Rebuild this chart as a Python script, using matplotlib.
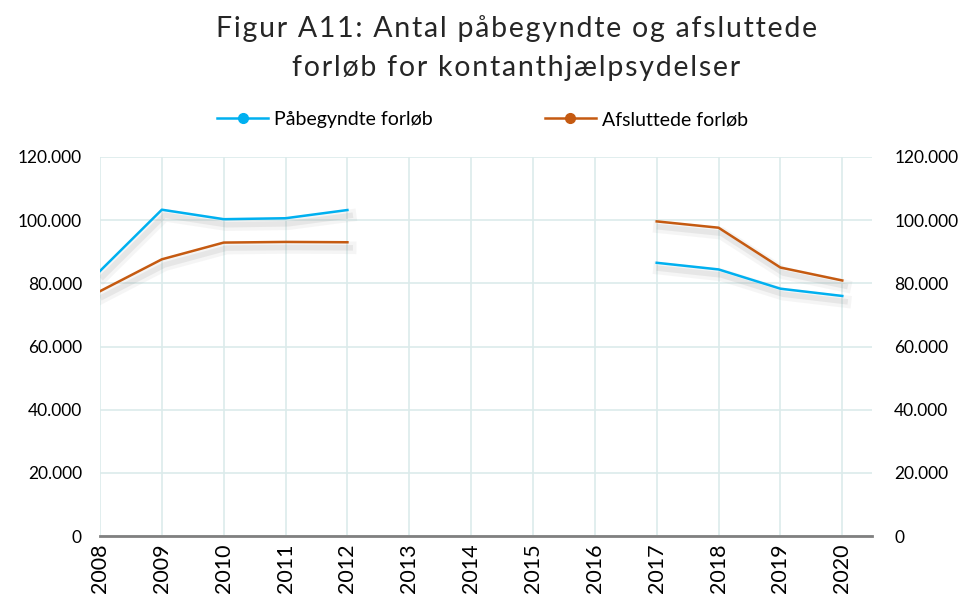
import numpy as np
import matplotlib
matplotlib.use("Agg")
import matplotlib.pyplot as plt
import matplotlib.patheffects as pe
from matplotlib.ticker import FuncFormatter
from matplotlib.lines import Line2D

plt.rcParams['font.family'] = ['Lato', 'DejaVu Sans']

years = list(range(2008, 2021))
# 2013-2016 missing in source
paabegyndte = [83900, 103300, 100300, 100600, 103200, None, None, None, None,
               86500, 84400, 78300, 76000]
afsluttede = [77500, 87600, 92900, 93100, 93000, None, None, None, None,
              99600, 97600, 85000, 80900]
yticks = [0, 20000, 40000, 60000, 80000, 100000, 120000]

title_1 = "Figur A11: Antal påbegyndte og afsluttede"
title_2 = "forløb for kontanthjælpsydelser"

blue = '#00B0F0'
orange = '#C55A11'
grid_col = '#DCEBEB'


def to_arr(vals):
    return np.array([np.nan if v is None else v for v in vals], dtype=float)


def fmt(v, _):
    return f"{int(v):,}".replace(",", ".")


def spaced(s):
    # imitate the wide letter spacing of the original title
    return "\u200a".join(s)


fig = plt.figure(figsize=(9.65, 5.99), dpi=100)
ax = fig.add_axes([0.1036, 0.105, 0.8, 0.633])

shadow = [pe.SimpleLineShadow(offset=(2, -4), shadow_color='#7f7f7f', alpha=0.07, linewidth=9),
          pe.SimpleLineShadow(offset=(2, -4), shadow_color='#7f7f7f', alpha=0.12, linewidth=4),
          pe.Normal()]
ax.plot(years, to_arr(paabegyndte), color=blue, lw=1.8, path_effects=shadow, zorder=3)
ax.plot(years, to_arr(afsluttede), color=orange, lw=1.8, path_effects=shadow, zorder=3)

ax.set_xlim(2008, 2020.48)
ax.set_ylim(0, 120000)
ax.set_xticks(years)
ax.set_xticklabels([str(y) for y in years], rotation=90, fontsize=15.5)
ax.set_yticks(yticks)
ax.yaxis.set_major_formatter(FuncFormatter(fmt))
ax.tick_params(axis='y', length=0, labelsize=12.5, pad=13)
ax.tick_params(axis='x', length=0, pad=5)
ax.grid(True, color=grid_col, lw=1.2, zorder=0)
ax.set_axisbelow(True)
for s in ['top', 'right', 'left']:
    ax.spines[s].set_visible(False)
ax.spines['bottom'].set_color('#808080')
ax.spines['bottom'].set_linewidth(2)

ax2 = ax.twinx()
ax2.set_ylim(ax.get_ylim())
ax2.set_yticks(yticks)
ax2.yaxis.set_major_formatter(FuncFormatter(fmt))
ax2.tick_params(axis='y', length=0, labelsize=12.5, pad=16)
for s in ax2.spines.values():
    s.set_visible(False)

fig.text(0.535, 0.953, spaced(title_1), ha='center', va='center', fontsize=20.5, color='#262626')
fig.text(0.535, 0.887, spaced(title_2), ha='center', va='center', fontsize=20.5, color='#262626')

handles = [Line2D([], [], color=blue, lw=1.8, marker='o', markersize=7),
           Line2D([], [], color=orange, lw=1.8, marker='o', markersize=7)]
fig.legend(handles, ["Påbegyndte forløb", "Afsluttede forløb"], loc='center',
           bbox_to_anchor=(0.5, 0.80), ncol=2, frameon=False, fontsize=14,
           handlelength=2.6, columnspacing=5.8, handletextpad=0.3)

fig.savefig("out.png", dpi=100)
